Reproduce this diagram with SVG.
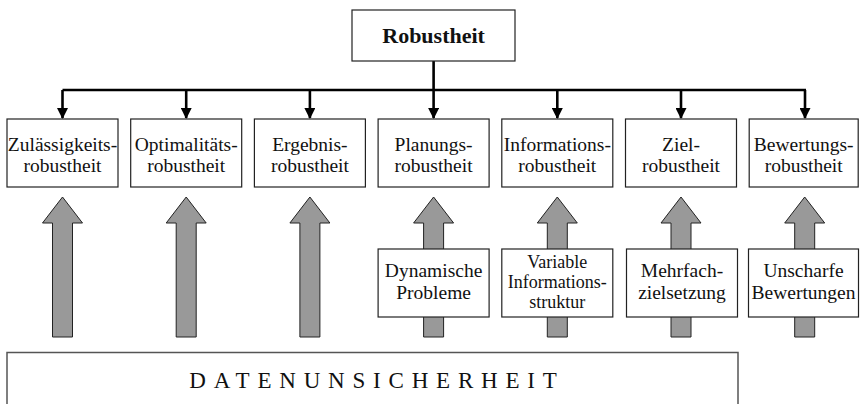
<svg xmlns="http://www.w3.org/2000/svg" width="860" height="404" viewBox="0 0 860 404">
<style>
.box{fill:#fff;stroke:#222;stroke-width:1.2}
.t{font-family:"Liberation Serif","Times New Roman",serif;font-size:19.5px;fill:#111;text-anchor:middle}
.big{fill:#999;stroke:#222;stroke-width:1}
.con{fill:none;stroke:#000;stroke-width:2.6}
</style>
<defs>
<marker id="ah" markerWidth="11" markerHeight="11" refX="10" refY="5.5" orient="auto" markerUnits="userSpaceOnUse">
<path d="M0,0 L11,5.5 L0,11 Z" fill="#000"/>
</marker>
<path id="bigArrow" d="M0,0 L20,26 L10,26 L10,140 L-10,140 L-10,26 L-20,26 Z"/>
</defs>
<g id="connectors">
<path class="con" d="M433.6,61 V90 M62.5,90 H806"/>
<path class="con" marker-end="url(#ah)" d="M62.5,90 V118"/>
<path class="con" marker-end="url(#ah)" d="M186.2,90 V118"/>
<path class="con" marker-end="url(#ah)" d="M309.9,90 V118"/>
<path class="con" marker-end="url(#ah)" d="M433.6,90 V118"/>
<path class="con" marker-end="url(#ah)" d="M557.3,90 V118"/>
<path class="con" marker-end="url(#ah)" d="M681,90 V118"/>
<path class="con" marker-end="url(#ah)" d="M805,90 V118"/>
<use href="#bigArrow" class="big" x="62.5" y="197"/>
<use href="#bigArrow" class="big" x="186.2" y="197"/>
<use href="#bigArrow" class="big" x="309.9" y="197"/>
<use href="#bigArrow" class="big" x="433.6" y="197"/>
<use href="#bigArrow" class="big" x="557.3" y="197"/>
<use href="#bigArrow" class="big" x="681" y="197"/>
<use href="#bigArrow" class="big" x="804.7" y="197"/>
</g>
<g id="robustheit">
<rect class="box" x="352" y="10" width="163" height="51"/>
<text class="t" x="433.6" y="43" style="font-size:22px;font-weight:bold">Robustheit</text>
</g>
<g id="zulaessigkeit">
<rect class="box" x="7" y="119" width="111" height="68"/>
<text class="t" x="62.5" y="151">Zulässigkeits-</text>
<text class="t" x="62.5" y="172">robustheit</text>
</g>
<g id="optimalitaet">
<rect class="box" x="130.7" y="119" width="111" height="68"/>
<text class="t" x="186.2" y="151">Optimalitäts-</text>
<text class="t" x="186.2" y="172">robustheit</text>
</g>
<g id="ergebnis">
<rect class="box" x="254.4" y="119" width="111" height="68"/>
<text class="t" x="309.9" y="151">Ergebnis-</text>
<text class="t" x="309.9" y="172">robustheit</text>
</g>
<g id="planung">
<rect class="box" x="378.1" y="119" width="111" height="68"/>
<text class="t" x="433.6" y="151">Planungs-</text>
<text class="t" x="433.6" y="172">robustheit</text>
</g>
<g id="information">
<rect class="box" x="501.8" y="119" width="111" height="68"/>
<text class="t" x="557.3" y="151">Informations-</text>
<text class="t" x="557.3" y="172">robustheit</text>
</g>
<g id="ziel">
<rect class="box" x="625.5" y="119" width="111" height="68"/>
<text class="t" x="681" y="151">Ziel-</text>
<text class="t" x="681" y="172">robustheit</text>
</g>
<g id="bewertung">
<rect class="box" x="749.2" y="119" width="109" height="68"/>
<text class="t" x="803.7" y="151">Bewertungs-</text>
<text class="t" x="803.7" y="172">robustheit</text>
</g>
<g id="dynamisch">
<rect class="box" x="378.1" y="249" width="111" height="68"/>
<text class="t" x="433.6" y="277">Dynamische</text>
<text class="t" x="433.6" y="299">Probleme</text>
</g>
<g id="variabel">
<rect class="box" x="501.8" y="249" width="111" height="68"/>
<text class="t" x="557.3" y="268" style="font-size:18px">Variable</text>
<text class="t" x="557.3" y="288" style="font-size:18px">Informations-</text>
<text class="t" x="557.3" y="308" style="font-size:18px">struktur</text>
</g>
<g id="mehrfach">
<rect class="box" x="626.5" y="249" width="111" height="68"/>
<text class="t" x="682" y="277">Mehrfach-</text>
<text class="t" x="682" y="299">zielsetzung</text>
</g>
<g id="unscharf">
<rect class="box" x="748.5" y="249" width="110" height="68"/>
<text class="t" x="803.5" y="277">Unscharfe</text>
<text class="t" x="803.5" y="299">Bewertungen</text>
</g>
<g id="datenunsicherheit">
<rect x="7" y="352.5" width="731" height="70" fill="#fff" stroke="#555" stroke-width="1.5"/>
<text class="t" x="377" y="388" style="font-size:23px;letter-spacing:7.8px">DATENUNSICHERHEIT</text>
</g>
</svg>
